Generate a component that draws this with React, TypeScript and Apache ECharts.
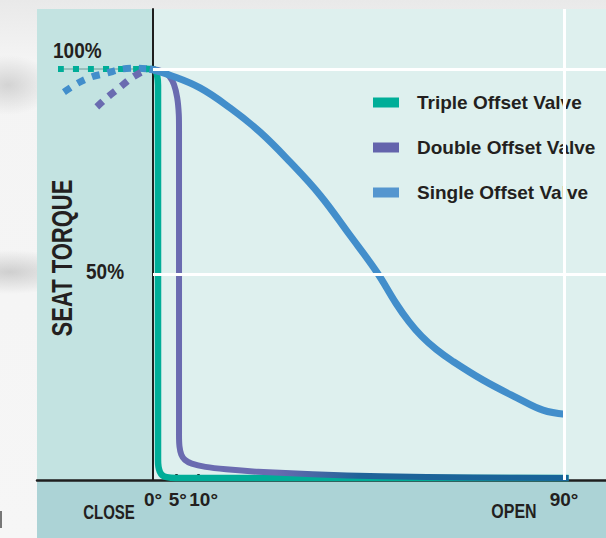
import React, { useEffect, useRef } from 'react';
import * as echarts from 'echarts';

const FONT = "'Liberation Sans', Arial, sans-serif";

const seriesNames = ['Triple Offset Valve', 'Double Offset Valve', 'Single Offset Valve'];
const lineColors = ['#00ad98', '#6a6bb0', '#428ecb'];
const legendColors = ['#00ae98', '#6464ac', '#5596cf'];

const xTickValues = [5, 10];
const xLabelValues = [0, 5, 10, 90];
const xLabelShift: Record<number, number> = { 0: 0, 5: 4, 10: 10, 90: 0 };
const yGridValues = [50, 100];
const yLabels = ['100%', '50%'];

// degrees, % seat torque
const tripleDotted: [number, number][] = [[-20.8, 100], [-1.0, 100]];
const tripleSolid: [number, number][] = [
  [-1.5, 100], [0, 100], [0.5, 99.6], [0.9, 98.5], [1.1, 96], [1.1, 5], [1.2, 3.2],
  [1.5, 2.0], [2.0, 1.2], [3.0, 0.7], [5, 0.5], [91, 0.5],
];
const doubleDotted: [number, number][] = [
  [-12.3, 90.8], [-9.9, 93.2], [-7.4, 95.4], [-5.0, 97.6], [-2.4, 99.3], [-0.7, 100],
];
const doubleSolid: [number, number][] = [
  [-0.7, 100], [1, 99.8], [2.5, 99.2], [3.6, 98.2], [4.6, 96.2], [5.3, 93], [5.65, 89],
  [5.7, 85], [5.7, 11], [5.8, 8.2], [6.2, 6.2], [7.0, 4.9], [8.5, 4.0], [11.5, 3.2],
  [16, 2.6], [23, 2.0], [35, 1.4], [50, 0.9], [70, 0.6], [91, 0.5],
];
const singleDotted: [number, number][] = [
  [-19.5, 94.4], [-16.4, 96.6], [-13.4, 98.1], [-10.1, 99.0], [-6.8, 100], [-3.5, 100.2], [-0.7, 100],
];
const singleSolid: [number, number][] = [
  [-0.7, 100], [3.7, 98.5], [10.3, 95.4], [16.9, 90.5], [23.4, 84.7], [30.0, 77.4],
  [36.6, 69.3], [43.1, 59.6], [49.0, 50.6], [53.2, 43.0], [56.0, 38.6], [58.8, 35.0],
  [62.0, 31.8], [65.5, 29.0], [72.3, 24.3], [79.7, 20.0], [85.4, 17.0], [90.2, 16.0],
];

const X_MIN = -25.4;
const X_MAX = 99.2;
const Y_MAX = 114.6;

export default function App() {
  const ref = useRef<HTMLDivElement>(null);
  useEffect(() => {
    if (!ref.current) return;
    const chart = echarts.init(ref.current, null, { renderer: 'svg' });
    const solidLine = (name: string, data: [number, number][], color: any, width: number, smooth: number) => ({
      name,
      type: 'line',
      data,
      z: 2,
      showSymbol: false,
      symbol: 'none',
      smooth,
      silent: true,
      lineStyle: { color, width, cap: 'butt', join: 'round' },
      itemStyle: { color },
    });
    const dottedLine = (data: [number, number][], color: string, width: number, dash: number[]) => ({
      type: 'line',
      data,
      z: 2,
      symbol: 'none',
      smooth: 0.3,
      silent: true,
      lineStyle: { color, width, type: dash, cap: 'butt' },
    });
    const labelText = (text: string, x: number, y: number, size: number, sy: number, extra: any = {}) => ({
      type: 'text', x, y, z: 10, silent: true, scaleY: sy, ...extra,
      style: { text, font: `bold ${size}px ${FONT}`, fill: '#231f20', verticalAlign: 'middle', align: extra.align || 'left' },
    });
    const rich: any = {};
    xLabelValues.forEach((v) => {
      rich['l' + v] = {
        fontFamily: FONT, fontWeight: 'bold', fontSize: 19, color: '#231f20',
        padding: [0, 0, 0, xLabelShift[v]],
      };
    });
    const option: any = {
      animation: false,
      grid: {
        left: 37, right: 0, top: 9, bottom: 58,
        show: true, backgroundColor: '#def0ee', borderWidth: 0,
      },
      legend: {
        orient: 'vertical',
        left: 373,
        top: 93,
        padding: 0,
        itemGap: 26,
        itemWidth: 26,
        itemHeight: 10,
        icon: 'rect',
        selectedMode: false,
        data: seriesNames.map((n, i) => ({ name: n, itemStyle: { color: legendColors[i] } })),
        formatter: (n: string) => `{t|${n}}`,
        textStyle: {
          rich: {
            t: {
              fontFamily: FONT, fontWeight: 'bold', fontSize: 19, color: '#231f20',
              padding: [0, 0, 0, 13], lineHeight: 22,
            },
          },
        },
      },
      xAxis: {
        type: 'value',
        min: X_MIN,
        max: X_MAX,
        z: 1.5,
        axisLine: { show: true, onZero: false, lineStyle: { color: '#1e1e1e', width: 2.5 } },
        axisTick: {
          show: true, inside: true, length: 6, customValues: xTickValues,
          lineStyle: { color: '#1e1e1e', width: 2.5 },
        },
        axisLabel: {
          show: true, customValues: xLabelValues, margin: 10,
          formatter: (v: number) => `{l${v}|${v}°}`,
          rich,
        },
        splitLine: { show: false },
      },
      yAxis: {
        type: 'value',
        min: 0,
        max: Y_MAX,
        z: 1.5,
        axisLine: { show: true, onZero: true, lineStyle: { color: '#1e1e1e', width: 2 } },
        axisTick: { show: false },
        axisLabel: { show: false },
        splitLine: { show: false },
      },
      series: [
        {
          type: 'line',
          data: [],
          z: 1,
          silent: true,
          markArea: {
            silent: true,
            itemStyle: { color: '#c3e3e1' },
            data: [[{ xAxis: X_MIN, yAxis: 0 }, { xAxis: 0, yAxis: Y_MAX }]],
          },
          markLine: {
            silent: true,
            symbol: 'none',
            label: { show: false },
            lineStyle: { color: '#ffffff', width: 3, type: 'solid' },
            data: [
              ...yGridValues.map((v) => [{ coord: [0, v] }, { coord: [X_MAX, v] }]),
              [{ coord: [90, 0] }, { coord: [90, Y_MAX] }],
            ],
          },
        },
        {
          type: 'line', data: tripleDotted, z: 2, symbol: 'none', silent: true,
          lineStyle: { color: 'rgba(70,120,120,0.7)', width: 1 },
        },
        dottedLine(tripleDotted, lineColors[0], 6, [6, 9]),
        dottedLine(singleDotted, lineColors[2], 7, [8, 8]),
        dottedLine(doubleDotted, lineColors[1], 7, [8, 8]),
        solidLine(seriesNames[0], tripleSolid, lineColors[0], 6.5, 0.25),
        solidLine(
          seriesNames[1],
          doubleSolid,
          new echarts.graphic.LinearGradient(0, 0, 1, 0, [
            { offset: 0, color: lineColors[1] },
            { offset: 0.3, color: lineColors[1] },
            { offset: 0.5, color: '#1f6399' },
            { offset: 1, color: '#176499' },
          ]),
          6,
          0.25,
        ),
        solidLine(seriesNames[2], singleSolid, lineColors[2], 7, 0.4),
      ],
      graphic: [
        {
          type: 'rect', z: 0, silent: true,
          shape: { x: 37, y: 481, width: 569, height: 57 },
          style: { fill: '#acd3d6' },
        },
        {
          type: 'rect', z: 0, silent: true,
          shape: { x: 0, y: 511, width: 2, height: 17 },
          style: { fill: '#777' },
        },
        labelText(yLabels[0], 53, 50, 19, 1.15),
        labelText(yLabels[1], 86, 271, 19, 1.15),
        labelText('SEAT TORQUE', 62, 258, 22, 1.3, { rotation: Math.PI / 2, align: 'center' }),
        labelText('CLOSE', 109, 512, 15, 1.3, { align: 'center' }),
        labelText('OPEN', 514, 511, 16, 1.3, { align: 'center' }),
      ],
    };
    chart.setOption(option);
    return () => chart.dispose();
  }, []);
  return (
    <div
      style={{
        position: 'fixed', left: 0, top: 0, width: 606, height: 538, overflow: 'hidden',
        background:
          'radial-gradient(ellipse 45px 30px at 8px 85px, rgba(150,150,150,0.35), rgba(150,150,150,0)),' +
          'radial-gradient(ellipse 70px 22px at 10px 272px, rgba(150,150,150,0.4), rgba(150,150,150,0)),' +
          'linear-gradient(#e9e9e9, #f4f4f4 60px, #f6f6f6)',
      }}
    >
      <div ref={ref} style={{ width: 606, height: 538 }} />
    </div>
  );
}
